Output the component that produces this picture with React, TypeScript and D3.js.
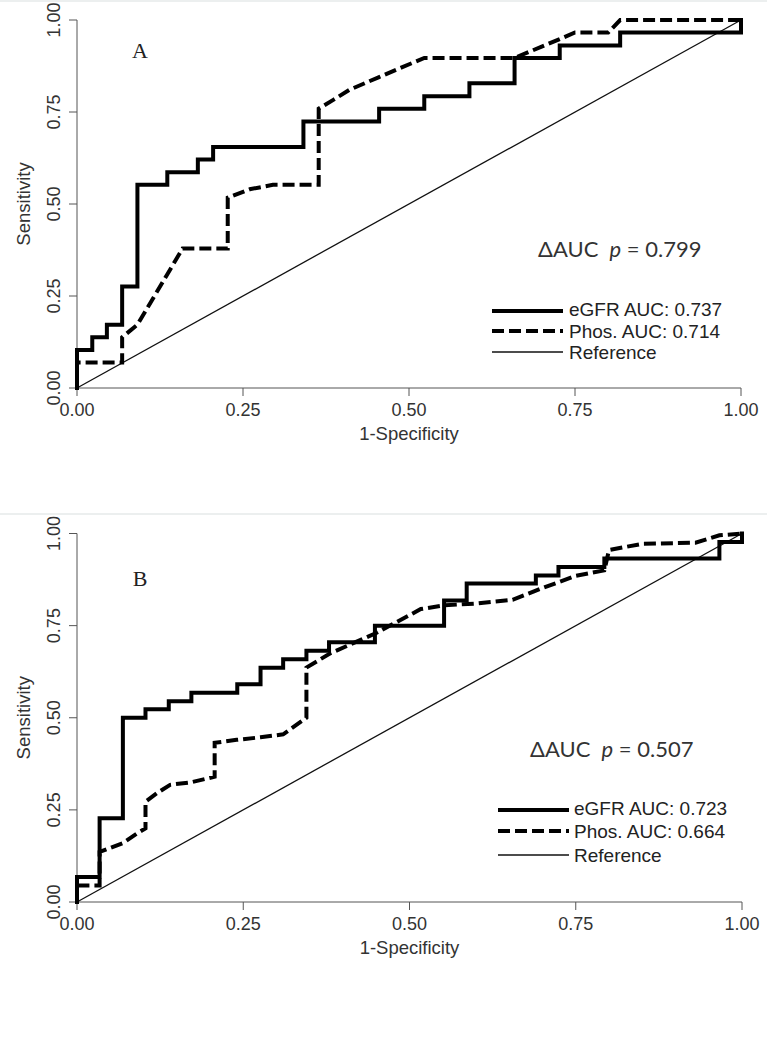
import React from "react";
import * as d3 from "d3";

// ---------- DATA ----------
const ticks = [0, 0.25, 0.5, 0.75, 1];
const tickLabels = ["0.00", "0.25", "0.50", "0.75", "1.00"];

// Panel A
const aEgfrFpr = [0, 0, 0.023, 0.023, 0.045, 0.045, 0.068, 0.068, 0.091, 0.091, 0.136, 0.136, 0.182, 0.182, 0.205, 0.205, 0.341, 0.341, 0.455, 0.455, 0.523, 0.523, 0.591, 0.591, 0.659, 0.659, 0.727, 0.727, 0.818, 0.818, 1, 1];
const aEgfrTpr = [0, 0.103, 0.103, 0.138, 0.138, 0.172, 0.172, 0.276, 0.276, 0.552, 0.552, 0.586, 0.586, 0.621, 0.621, 0.655, 0.655, 0.724, 0.724, 0.759, 0.759, 0.793, 0.793, 0.828, 0.828, 0.897, 0.897, 0.931, 0.931, 0.966, 0.966, 1];
const aPhosFpr = [0, 0, 0.068, 0.068, 0.091, 0.159, 0.227, 0.227, 0.26, 0.295, 0.364, 0.364, 0.386, 0.41, 0.455, 0.523, 0.659, 0.727, 0.75, 0.8, 0.818, 1];
const aPhosTpr = [0, 0.069, 0.069, 0.138, 0.172, 0.379, 0.379, 0.517, 0.54, 0.552, 0.552, 0.759, 0.783, 0.81, 0.845, 0.897, 0.897, 0.948, 0.966, 0.966, 1, 1];

// Panel B
const bEgfrFpr = [0, 0, 0.034, 0.034, 0.069, 0.069, 0.103, 0.103, 0.138, 0.138, 0.172, 0.172, 0.241, 0.241, 0.276, 0.276, 0.31, 0.31, 0.345, 0.345, 0.379, 0.379, 0.448, 0.448, 0.552, 0.552, 0.586, 0.586, 0.69, 0.69, 0.724, 0.724, 0.793, 0.793, 0.966, 0.966, 1, 1];
const bEgfrTpr = [0, 0.068, 0.068, 0.227, 0.227, 0.5, 0.5, 0.523, 0.523, 0.545, 0.545, 0.568, 0.568, 0.591, 0.591, 0.636, 0.636, 0.659, 0.659, 0.682, 0.682, 0.705, 0.705, 0.75, 0.75, 0.818, 0.818, 0.864, 0.864, 0.886, 0.886, 0.909, 0.909, 0.932, 0.932, 0.977, 0.977, 1];
const bPhosFpr = [0, 0, 0.034, 0.034, 0.069, 0.09, 0.103, 0.103, 0.12, 0.14, 0.172, 0.207, 0.207, 0.24, 0.276, 0.31, 0.345, 0.345, 0.381, 0.45, 0.517, 0.552, 0.6, 0.655, 0.7, 0.75, 0.793, 0.8, 0.85, 0.93, 0.966, 1];
const bPhosTpr = [0, 0.045, 0.045, 0.136, 0.16, 0.186, 0.2, 0.272, 0.295, 0.318, 0.325, 0.34, 0.432, 0.44, 0.447, 0.455, 0.5, 0.636, 0.675, 0.73, 0.795, 0.805, 0.81, 0.82, 0.852, 0.885, 0.9, 0.955, 0.972, 0.975, 0.995, 1];

const refLine = [0, 1];

const panelLetters = ["A", "B"];
const egfrAuc = ["0.737", "0.723"];
const phosAuc = ["0.714", "0.664"];
const pValues = ["0.799", "0.507"];

// ---------- LAYOUT ----------
type Layout = {
  x0: number; x1: number; yTop: number; yBot: number;
  letter: [number, number];
  pText: [number, number];
  legX0: number; legX1: number; legText: number; legRows: [number, number, number];
};

const layouts: Layout[] = [
  { x0: 77, x1: 741, yTop: 20, yBot: 388, letter: [140, 50], pText: [538, 248], legX0: 492, legX1: 563, legText: 569, legRows: [309, 331, 352] },
  { x0: 77, x1: 742, yTop: 533.5, yBot: 902, letter: [140, 578], pText: [530, 748], legX0: 498, legX1: 569, legText: 574, legRows: [808, 831, 855] },
];

const SANS = "'Liberation Sans', Arial, sans-serif";
const DASH = "12,5";

function zip(xs: number[], ys: number[]): [number, number][] {
  return xs.map((x, i) => [x, ys[i]] as [number, number]);
}

function Panel({ idx, egfr, phos }: { idx: number; egfr: [number, number][]; phos: [number, number][] }) {
  const L = layouts[idx];
  const x = d3.scaleLinear().domain([0, 1]).range([L.x0, L.x1]);
  const y = d3.scaleLinear().domain([0, 1]).range([L.yBot, L.yTop]);
  const line = d3.line<[number, number]>().x((d) => x(d[0])).y((d) => y(d[1]));
  const ref = zip(refLine, refLine);
  const yMid = (L.yTop + L.yBot) / 2;
  const xMid = (L.x0 + L.x1) / 2;
  return (
    <g>
      {/* axes */}
      <line x1={x(0)} x2={x(1)} y1={y(0)} y2={y(0)} stroke="#555" strokeWidth={1} />
      <line x1={x(0)} x2={x(0)} y1={y(0)} y2={y(1)} stroke="#555" strokeWidth={1} />
      {ticks.map((t, i) => (
        <g key={"x" + i}>
          <line x1={x(t)} x2={x(t)} y1={y(0)} y2={y(0) + 8} stroke="#555" strokeWidth={1} />
          <text x={x(t)} y={y(0) + 22} textAnchor="middle" dominantBaseline="central" fontFamily={SANS} fontSize={18} fill="#333">
            {tickLabels[i]}
          </text>
        </g>
      ))}
      {ticks.map((t, i) => (
        <g key={"y" + i}>
          <line x1={x(0) - 8} x2={x(0)} y1={y(t)} y2={y(t)} stroke="#555" strokeWidth={1} />
          <text transform={`translate(${x(0) - 23},${y(t)}) rotate(-90)`} textAnchor="middle" dominantBaseline="central" fontFamily={SANS} fontSize={18} fill="#333">
            {tickLabels[i]}
          </text>
        </g>
      ))}
      <text x={xMid} y={y(0) + 45} textAnchor="middle" dominantBaseline="central" fontFamily={SANS} fontSize={18.5} fill="#333">
        1-Specificity
      </text>
      <text transform={`translate(${L.x0 - 54},${yMid}) rotate(-90)`} textAnchor="middle" dominantBaseline="central" fontFamily={SANS} fontSize={18.5} fill="#333">
        Sensitivity
      </text>

      {/* curves */}
      <path d={line(ref) || ""} fill="none" stroke="#111" strokeWidth={1.3} />
      <path d={line(phos) || ""} fill="none" stroke="#000" strokeWidth={4} strokeDasharray={DASH} strokeLinejoin="miter" />
      <path d={line(egfr) || ""} fill="none" stroke="#000" strokeWidth={4} strokeLinejoin="miter" strokeLinecap="square" />

      {/* letter */}
      <text x={L.letter[0]} y={L.letter[1]} textAnchor="middle" dominantBaseline="central" fontFamily="'Liberation Serif', 'Times New Roman', serif" fontSize={22} fill="#222">
        {panelLetters[idx]}
      </text>

      {/* p value */}
      <text x={L.pText[0]} y={L.pText[1]} dominantBaseline="central" fontFamily="Lato, 'Open Sans', sans-serif" fontSize={22} fill="#333">
        ΔAUC{"\u00a0\u00a0"}<tspan fontStyle="italic">p</tspan> = {pValues[idx]}
      </text>

      {/* legend */}
      <line x1={L.legX0} x2={L.legX1} y1={L.legRows[0] + 2} y2={L.legRows[0] + 2} stroke="#000" strokeWidth={4} />
      <line x1={L.legX0} x2={L.legX1} y1={L.legRows[1]} y2={L.legRows[1]} stroke="#000" strokeWidth={4} strokeDasharray={DASH} />
      <line x1={L.legX0} x2={L.legX1} y1={L.legRows[2]} y2={L.legRows[2]} stroke="#111" strokeWidth={1.3} />
      <text x={L.legText} y={L.legRows[0]} dominantBaseline="central" fontFamily={SANS} fontSize={19} fill="#222">
        eGFR AUC: {egfrAuc[idx]}
      </text>
      <text x={L.legText} y={L.legRows[1]} dominantBaseline="central" fontFamily={SANS} fontSize={19} fill="#222">
        Phos. AUC: {phosAuc[idx]}
      </text>
      <text x={L.legText} y={L.legRows[2]} dominantBaseline="central" fontFamily={SANS} fontSize={19} fill="#222">
        Reference
      </text>
    </g>
  );
}

export default function App() {
  return (
    <svg width={767} height={1049} style={{ position: "absolute", left: 0, top: 0, background: "#fff" }}>
      <rect x={0} y={0} width={767} height={1049} fill="#fff" />
      <line x1={0} x2={767} y1={1} y2={1} stroke="#e6eaea" strokeWidth={1.5} />
      <line x1={0} x2={767} y1={514} y2={514} stroke="#e6eaea" strokeWidth={1.5} />
      <Panel idx={0} egfr={zip(aEgfrFpr, aEgfrTpr)} phos={zip(aPhosFpr, aPhosTpr)} />
      <Panel idx={1} egfr={zip(bEgfrFpr, bEgfrTpr)} phos={zip(bPhosFpr, bPhosTpr)} />
    </svg>
  );
}
